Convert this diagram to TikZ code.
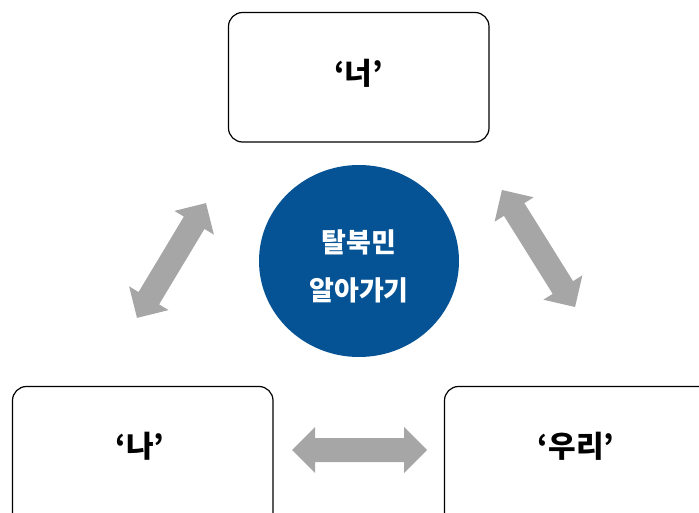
\documentclass[tikz,border=0pt]{standalone}
\usepackage{fontspec}
\setmainfont{Noto Sans CJK KR}
\definecolor{circblue}{RGB}{5,83,148}
\definecolor{arrgray}{RGB}{166,166,166}
\begin{document}
\begin{tikzpicture}[x=1pt,y=-1pt,
  box/.style={draw=black,line width=1.2pt,rounded corners=14pt},
  lbl/.style={font=\fontsize{30}{34}\selectfont\bfseries,text=black},
  dblarrow/.style={fill=arrgray}]
\useasboundingbox (0,0) rectangle (699,513);
\clip (0,0) rectangle (699,513);
% boxes
\draw[box] (228.5,12.5) rectangle (489,142);
\draw[box] (12.5,386.5) rectangle (273,540);
\draw[box] (444.5,386.5) rectangle (720,540);
\node[lbl] (you) at (358.5,73) {‘너’};
\node[lbl] (me) at (140,446) {‘나’};
\node[lbl] (we) at (576,446) {‘우리’};
% circle
\fill[circblue] (359,261) ellipse [x radius=100, y radius=96];
\node[font=\fontsize{27}{48}\selectfont\bfseries,text=white,align=center] (ctr) at (359,266) {탈북민\\알아가기};
% arrows
\foreach \cx/\cy/\ang/\L in {171.5/260.5/59/134, 538.5/248.5/-58/138, 359.5/450/0/135}{
  \begin{scope}[shift={(\cx,\cy)},rotate=\ang]
    \fill[dblarrow] (-\L/2,0) -- (-\L/2+23,23) -- (-\L/2+23,12) -- (\L/2-23,12) -- (\L/2-23,23) -- (\L/2,0)
      -- (\L/2-23,-23) -- (\L/2-23,-12) -- (-\L/2+23,-12) -- (-\L/2+23,-23) -- cycle;
  \end{scope}
}
\end{tikzpicture}
\end{document}
